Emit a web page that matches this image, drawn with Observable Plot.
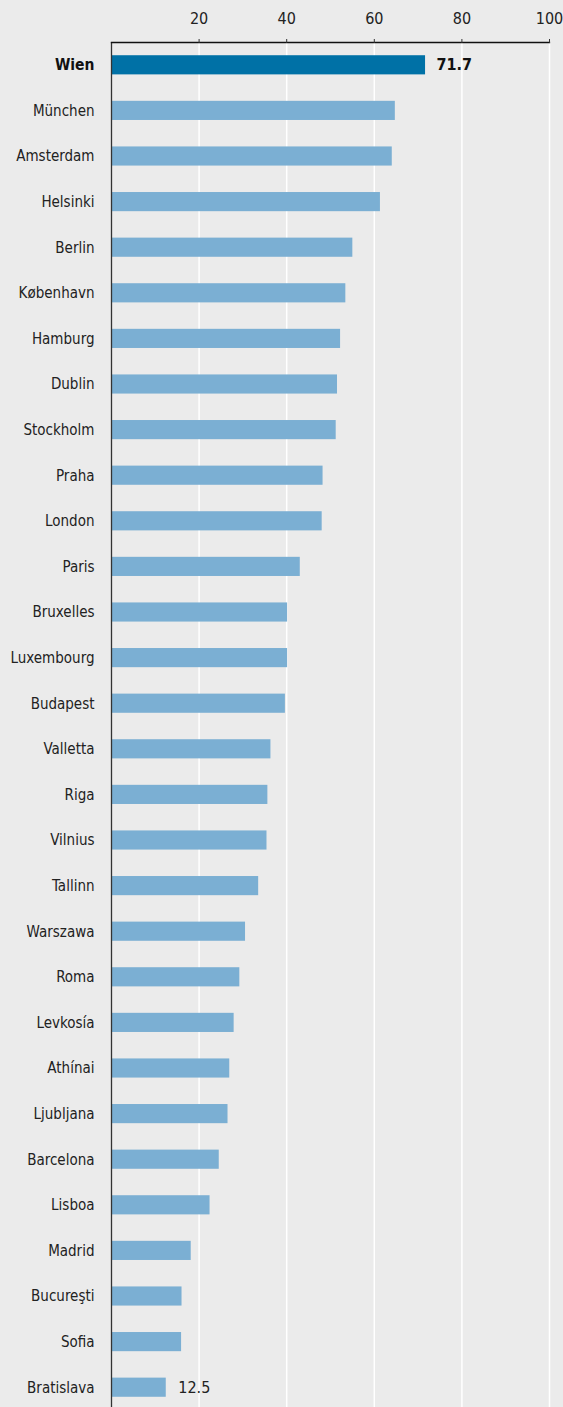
<!DOCTYPE html>
<html>
<head>
<meta charset="utf-8">
<script src="https://cdn.jsdelivr.net/npm/d3@7"></script>
<script src="https://cdn.jsdelivr.net/npm/@observablehq/plot@0.6"></script>
<style>
  html, body { margin: 0; padding: 0; background: #ebebeb; }
  #chart svg { display: block; }
  #chart svg text { font-stretch: condensed; }
</style>
</head>
<body>
<div id="chart"></div>
<script>
const cities = ["Wien","München","Amsterdam","Helsinki","Berlin","København","Hamburg","Dublin","Stockholm","Praha","London","Paris","Bruxelles","Luxembourg","Budapest","Valletta","Riga","Vilnius","Tallinn","Warszawa","Roma","Levkosía","Athínai","Ljubljana","Barcelona","Lisboa","Madrid","Bucureşti","Sofia","Bratislava"];
const values = [71.7,64.8,64.1,61.4,55.1,53.5,52.3,51.6,51.3,48.3,48.1,43.1,40.2,40.2,39.7,36.4,35.7,35.5,33.6,30.6,29.3,28.0,27.0,26.6,24.6,22.5,18.2,16.1,16.0,12.5];
const xTicks = [20,40,60,80,100];
const highlight = "Wien";
const labelled = ["Wien","Bratislava"];

const data = cities.map((c, i) => ({city: c, value: values[i]}));
const font = "'DejaVu Sans Condensed', 'DejaVu Sans', sans-serif";

const chart = Plot.plot({
  width: 563,
  height: 1410,
  marginTop: 42,
  marginLeft: 111,
  marginRight: 14,
  marginBottom: 0,
  style: {background: "#ebebeb", fontFamily: font, fontSize: "15px", color: "#222"},
  x: {domain: [0, 100], label: null},
  y: {domain: cities, paddingInner: 0.58, paddingOuter: 0.29, round: false, label: null},
  marks: [
    Plot.ruleX(xTicks, {stroke: "white", strokeWidth: 1.5}),
    Plot.barX(data, {x: "value", y: "city", fill: d => d.city === highlight ? "#0071a6" : "#7bafd3"}),
    Plot.ruleX([0], {stroke: "#333", strokeWidth: 1.3}),
    Plot.frame({anchor: "top", stroke: "#111", strokeWidth: 1.3}),
    Plot.axisX(xTicks, {anchor: "top", tickSize: 4, tickPadding: 15, stroke: "#333", fill: "#222", fontSize: 16, label: null}),
    Plot.axisY(cities.filter(c => c !== highlight), {anchor: "left", tickSize: 0, tickPadding: 17, fill: "#222", fontSize: 15, label: null}),
    Plot.axisY([highlight], {anchor: "left", tickSize: 0, tickPadding: 17, fill: "#111", fontWeight: "bold", fontSize: 15.5, label: null}),
    Plot.text(data.filter(d => labelled.includes(d.city) && d.city === highlight), {x: "value", y: "city", text: d => d.value.toFixed(1), textAnchor: "start", dx: 11, fontWeight: "bold", fontSize: 16, fill: "#111"}),
    Plot.text(data.filter(d => labelled.includes(d.city) && d.city !== highlight), {x: "value", y: "city", text: d => d.value.toFixed(1), textAnchor: "start", dx: 12, fontSize: 16, fill: "#222"})
  ]
});
document.getElementById("chart").append(chart);
</script>
</body>
</html>
